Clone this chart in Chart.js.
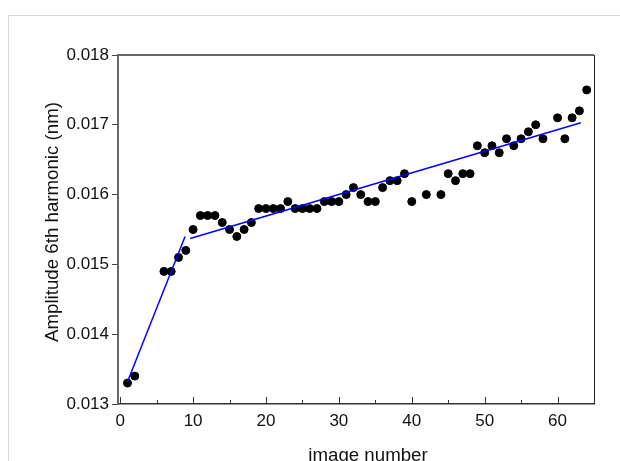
<!DOCTYPE html>
<html>
<head>
<meta charset="utf-8">
<script src="https://cdn.jsdelivr.net/npm/chart.js@4/dist/chart.umd.min.js"></script>
<style>
  body { margin: 0; background: #fff; }
  #wrap { position: relative; width: 620px; height: 461px; overflow: hidden; }
  #edge { position: absolute; left: 8px; top: 15px; width: 700px; height: 600px;
          border-left: 1px solid #d8d8d8; border-top: 1px solid #d8d8d8; }
  canvas { position: absolute; left: 0; top: 0; }
</style>
</head>
<body>
<div id="wrap">
  <div id="edge"></div>
  <canvas id="harmonicChart" width="620" height="461"></canvas>
</div>
<script>
// DATA
const imageNumber = [1, 2, 6, 7, 8, 9, 10, 11, 12, 13, 14, 15, 16, 17, 18, 19, 20, 21, 22, 23,
    24, 25, 26, 27, 28, 29, 30, 31, 32, 33, 34, 35, 36, 37, 38, 39, 40, 42, 44, 45,
    46, 47, 48, 49, 50, 51, 52, 53, 54, 55, 56, 57, 58, 60, 61, 62, 63, 64];
const amplitude = [0.0133, 0.0134, 0.0149, 0.0149, 0.0151, 0.0152, 0.0155, 0.0157, 0.0157, 0.0157,
    0.0156, 0.0155, 0.0154, 0.0155, 0.0156, 0.0158, 0.0158, 0.0158, 0.0158, 0.0159,
    0.0158, 0.0158, 0.0158, 0.0158, 0.0159, 0.0159, 0.0159, 0.0160, 0.0161, 0.0160,
    0.0159, 0.0159, 0.0161, 0.0162, 0.0162, 0.0163, 0.0159, 0.0160, 0.0160, 0.0163,
    0.0162, 0.0163, 0.0163, 0.0167, 0.0166, 0.0167, 0.0166, 0.0168, 0.0167, 0.0168,
    0.0169, 0.0170, 0.0168, 0.0171, 0.0168, 0.0171, 0.0172, 0.0175];

// linear fits (end points)
const fit1X = [1, 8.9];
const fit1Y = [0.01332, 0.01540];
const fit2X = [9.6, 63.2];
const fit2Y = [0.01537, 0.01703];

const xTicks = [0, 10, 20, 30, 40, 50, 60];
const xMinorTicks = [5, 15, 25, 35, 45, 55];
const yTicks = [0.013, 0.014, 0.015, 0.016, 0.017, 0.018];

const xTitle = "image number";
const yTitle = "Amplitude 6th harmonic (nm)";

const FONT = "'Liberation Sans', Arial, sans-serif";
const pairs = (xs, ys) => xs.map((x, i) => ({ x: x, y: ys[i] }));

// frame, inward x ticks, axis titles
const framePlugin = {
    id: "frame",
    beforeDatasetsDraw(chart) {
        const ctx = chart.ctx;
        const a = chart.chartArea;
        const xs = chart.scales.x;
        ctx.save();
        ctx.strokeStyle = "#666";
        ctx.lineWidth = 2;
        ctx.beginPath();
        ctx.moveTo(a.left, a.top);
        ctx.lineTo(a.right, a.top);
        ctx.stroke();
        ctx.strokeStyle = "#222";
        ctx.lineWidth = 1;
        ctx.beginPath();
        ctx.moveTo(a.right + 0.5, a.top);
        ctx.lineTo(a.right + 0.5, a.bottom);
        ctx.stroke();

        ctx.strokeStyle = "#333";
        ctx.lineWidth = 1;
        ctx.beginPath();
        xTicks.forEach(v => {
            const px = Math.round(xs.getPixelForValue(v)) + 0.5;
            ctx.moveTo(px, a.bottom);
            ctx.lineTo(px, a.bottom - 7);
        });
        xMinorTicks.forEach(v => {
            const px = Math.round(xs.getPixelForValue(v)) + 0.5;
            ctx.moveTo(px, a.bottom);
            ctx.lineTo(px, a.bottom - 4);
        });
        ctx.stroke();
        ctx.restore();
    },
    afterDraw(chart) {
        const ctx = chart.ctx;
        ctx.save();
        ctx.fillStyle = "#111";
        ctx.font = "18.7px " + FONT;
        ctx.textAlign = "center";
        ctx.textBaseline = "alphabetic";
        ctx.fillText(xTitle, 368, 461);
        ctx.translate(58, 222);
        ctx.rotate(-Math.PI / 2);
        ctx.fillText(yTitle, 0, 0);
        ctx.restore();
    }
};

new Chart(document.getElementById("harmonicChart"), {
    type: "scatter",
    data: {
        datasets: [{
            type: "line",
            data: pairs(fit1X, fit1Y),
            borderColor: "#0000ff",
            borderWidth: 1.5,
            pointRadius: 0,
            order: 0
        }, {
            type: "line",
            data: pairs(fit2X, fit2Y),
            borderColor: "#0000ff",
            borderWidth: 1.5,
            pointRadius: 0,
            order: 0
        }, {
            data: pairs(imageNumber, amplitude),
            backgroundColor: "#000",
            borderColor: "#000",
            pointRadius: 4,
            pointHoverRadius: 4,
            order: 1
        }]
    },
    options: {
        responsive: false,
        animation: false,
        events: [],
        layout: { padding: { top: 55, right: 26, left: 0, bottom: 0 } },
        plugins: { legend: { display: false }, tooltip: { enabled: false } },
        scales: {
            x: {
                type: "linear",
                min: -0.3,
                max: 65,
                afterBuildTicks: s => { s.ticks = xTicks.map(v => ({ value: v })); },
                afterFit: s => { s.height = 57; },
                grid: { display: false, drawTicks: false },
                border: { display: true, color: "#333", width: 1.5 },
                ticks: {
                    color: "#111",
                    padding: 7,
                    maxRotation: 0,
                    font: { family: FONT, size: 17 }
                }
            },
            y: {
                min: 0.013,
                max: 0.018,
                afterBuildTicks: s => { s.ticks = yTicks.map(v => ({ value: v })); },
                afterFit: s => { s.width = 118; },
                grid: { drawOnChartArea: false, tickLength: 6, color: "#444" },
                border: { display: true, color: "#666", width: 2 },
                ticks: {
                    color: "#111",
                    padding: 3,
                    callback: v => v.toFixed(3),
                    font: { family: FONT, size: 17 }
                }
            }
        }
    },
    plugins: [framePlugin]
});
</script>
</body>
</html>
